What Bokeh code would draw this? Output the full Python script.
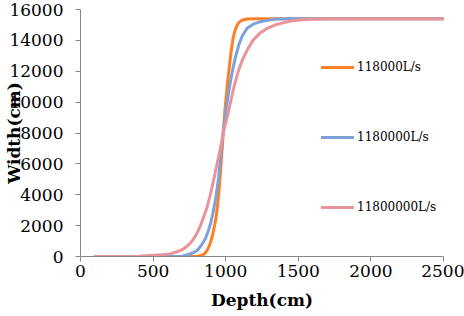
from bokeh.plotting import figure
from bokeh.models import Range1d, FixedTicker, Legend, LegendItem
from bokeh.embed import file_html
from bokeh.resources import INLINE

# Data
series_names = ["118000L/s", "1180000L/s", "11800000L/s"]

depth_118000 = [100, 700, 800, 830, 850, 872, 890, 906, 920, 934, 943, 952, 961, 970, 978, 986, 995, 1005, 1013, 1021, 1036, 1051, 1060, 1070, 1080, 1090, 1110, 1147, 1200, 2500]
width_118000 = [0, 0, 0, 60, 150, 390, 750, 1250, 1850, 2550, 3250, 4070, 5100, 6230, 7300, 8400, 9500, 10500, 11300, 11960, 13200, 14130, 14500, 14800, 15000, 15150, 15300, 15380, 15400, 15400]

depth_1180000 = [100, 600, 650, 700, 750, 780, 803, 830, 860, 880, 895, 912, 929, 940, 952, 960, 968, 980, 990, 1010, 1030, 1050, 1067, 1090, 1115, 1147, 1190, 1239, 1300, 1354, 1450, 2500]
width_1180000 = [0, 0, 5, 20, 150, 260, 390, 700, 1150, 1650, 2120, 2800, 3640, 4350, 5150, 6000, 6880, 7800, 8600, 10000, 11200, 12200, 12900, 13700, 14300, 14780, 15050, 15210, 15320, 15380, 15400, 15400]

depth_11800000 = [100, 300, 400, 482, 560, 619, 660, 711, 750, 780, 805, 826, 850, 872, 890, 906, 925, 941, 963, 990, 1015, 1040, 1060, 1090, 1120, 1155, 1192, 1240, 1290, 1340, 1400, 1450, 1510, 1580, 1650, 1800, 2500]
width_11800000 = [0, 5, 20, 60, 110, 170, 290, 500, 800, 1150, 1550, 2010, 2600, 3200, 3850, 4500, 5300, 6020, 7000, 8300, 9200, 10300, 11100, 12100, 12850, 13500, 14050, 14500, 14800, 15000, 15150, 15250, 15320, 15370, 15390, 15400, 15400]

x_ticks = [0, 500, 1000, 1500, 2000, 2500]
y_ticks = [0, 2000, 4000, 6000, 8000, 10000, 12000, 14000, 16000]

colors = ["#FF7F27", "#7CA2D9", "#E8949A"]

p = figure(width=464, height=316, output_backend="svg", toolbar_location=None,
           x_range=Range1d(0, 2500), y_range=Range1d(0, 16000),
           min_border_left=80, min_border_right=21, min_border_top=9, min_border_bottom=60)
p.outline_line_color = None
p.grid.visible = False
p.background_fill_color = "white"
p.border_fill_color = "white"

FONT = "DejaVu Serif"
for ax in (p.xaxis[0], p.yaxis[0]):
    ax.axis_line_color = "#868686"
    ax.major_tick_line_color = "#868686"
    ax.major_tick_out = 5
    ax.major_tick_in = 0
    ax.minor_tick_line_color = None
    ax.major_label_text_font = FONT
    ax.major_label_text_font_size = "17px"
    ax.major_label_text_color = "black"
    ax.axis_label_text_font = FONT
    ax.axis_label_text_font_size = "17px"
    ax.axis_label_text_font_style = "bold"
    ax.axis_label_text_color = "black"

p.xaxis.ticker = FixedTicker(ticks=x_ticks)
p.yaxis.ticker = FixedTicker(ticks=y_ticks)
p.xaxis.axis_label = "Depth(cm)"
p.yaxis.axis_label = "Width(cm)"
p.xaxis.major_label_standoff = 3
p.xaxis.axis_label_standoff = 10
p.yaxis.major_label_standoff = 12
p.yaxis.axis_label_standoff = -18

data = [(depth_118000, width_118000), (depth_1180000, width_1180000), (depth_11800000, width_11800000)]
items = []
for (xs, ys), c, name in zip(data, colors, series_names):
    r = p.line(xs, ys, line_color=c, line_width=3, line_join="round", line_cap="round")
    items.append(LegendItem(label=name, renderers=[r]))

legend = Legend(items=items, location=(241, 39), orientation="vertical",
                border_line_color=None, background_fill_alpha=0,
                padding=0, margin=0, spacing=50,
                label_height=20, glyph_height=20, glyph_width=33, label_standoff=3,
                label_text_font=FONT, label_text_font_size="12px", label_text_color="black")
p.add_layout(legend)

open("out.html", "w").write(file_html(p, INLINE))
